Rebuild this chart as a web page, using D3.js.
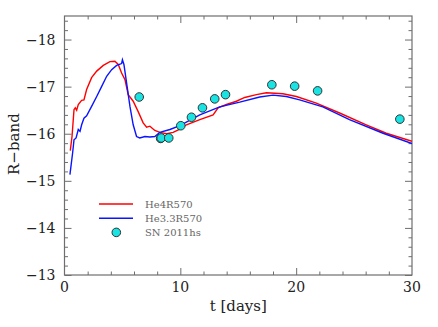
<!DOCTYPE html>
<html>
<head>
<meta charset="utf-8">
<script src="https://cdn.jsdelivr.net/npm/d3@7"></script>
<style>
  body { margin: 0; background: #fff; }
  svg text { font-family: "DejaVu Serif", "Liberation Serif", serif; }
</style>
</head>
<body>
<div id="chart"></div>
<script>
// model He4R570: [t, mag]
let redT =   [0.50, 0.65, 0.82, 0.93, 1.05, 1.19, 1.48, 1.68, 1.91, 2.34, 2.78, 3.35, 3.92, 4.35, 4.64, 4.93, 5.22, 5.50, 5.93, 6.36, 6.79, 7.09, 7.37, 7.80, 8.23, 8.81, 9.38, 9.96, 10.53, 11.68, 12.83, 13.26, 13.98, 14.84, 15.56, 16.57, 17.43, 18.86, 20.02, 21.74, 23.75, 26.05, 27.78, 30.0];
let redMag = [-15.64, -15.94, -16.51, -16.55, -16.50, -16.62, -16.71, -16.72, -16.94, -17.19, -17.33, -17.45, -17.53, -17.54, -17.47, -17.29, -17.15, -16.83, -16.69, -16.47, -16.23, -16.14, -16.16, -16.07, -16.03, -16.00, -16.03, -16.10, -16.19, -16.30, -16.40, -16.55, -16.62, -16.69, -16.77, -16.83, -16.87, -16.85, -16.79, -16.65, -16.44, -16.19, -16.01, -15.84];

// model He3.3R570
let blueT =   [0.47, 0.70, 0.82, 1.00, 1.19, 1.34, 1.48, 1.68, 1.91, 2.34, 2.78, 3.20, 3.64, 4.07, 4.50, 4.93, 5.00, 5.13, 5.36, 5.65, 5.93, 6.22, 6.50, 6.94, 7.37, 7.80, 8.23, 9.10, 9.96, 11.68, 13.40, 15.13, 16.85, 18.00, 19.15, 20.30, 22.30, 24.60, 27.50, 30.0];
let blueMag = [-15.13, -15.59, -15.87, -15.91, -16.09, -16.05, -16.19, -16.33, -16.38, -16.58, -16.79, -17.00, -17.22, -17.36, -17.45, -17.49, -17.57, -17.47, -17.08, -16.58, -16.19, -15.94, -15.91, -15.94, -15.93, -15.94, -16.03, -16.09, -16.17, -16.40, -16.57, -16.67, -16.78, -16.82, -16.79, -16.72, -16.57, -16.30, -16.01, -15.79];

// SN 2011hs observations
let obsT =   [6.45, 8.30, 8.35, 9.00, 10.04, 10.96, 11.91, 12.97, 13.90, 17.90, 19.87, 21.85, 28.95];
let obsMag = [-16.78, -15.90, -15.91, -15.91, -16.17, -16.35, -16.55, -16.74, -16.83, -17.04, -17.01, -16.91, -16.31];

let legendNames = ["He4R570", "He3.3R570", "SN 2011hs"];
let xTicks = [0, 10, 20, 30];
let yTicks = [-18, -17, -16, -15, -14, -13];

let margin = {top: 16, right: 26, bottom: 52, left: 64.5},
    width = 438 - margin.left - margin.right,
    height = 327 - margin.top - margin.bottom;

let x = d3.scaleLinear().domain([0, 30]).range([0, width]);
let y = d3.scaleLinear().domain([-13, -18.5]).range([height, 0]);

let svg = d3.select("#chart")
    .append("svg")
    .attr("width", 438)
    .attr("height", 327)
    .append("g")
    .attr("transform", "translate(" + margin.left + "," + margin.top + ")");

let axisColor = "#6e6e6e";
let fmt = d => d < 0 ? "\u2212" + Math.abs(d) : String(d);

// frame
svg.append("rect")
    .attr("width", width)
    .attr("height", height)
    .attr("fill", "none")
    .attr("stroke", axisColor)
    .attr("stroke-width", 1.2);

// ticks pointing inward on all four sides
let xMinor = d3.range(0, 30.01, 2).filter(d => d % 10 !== 0);
let yMinor = d3.range(-18.4, -13, 0.2).filter(d => Math.abs(d - Math.round(d)) > 0.01);

function ticks(axisFn, scale, values, len, tr) {
    let g = svg.append("g")
        .call(axisFn(scale).tickValues(values).tickSize(-len).tickFormat(""));
    if (tr) g.attr("transform", tr);
}

ticks(d3.axisBottom, x, [10, 20], 7, "translate(0," + height + ")");
ticks(d3.axisBottom, x, xMinor, 3.5, "translate(0," + height + ")");
ticks(d3.axisTop, x, [10, 20], 7);
ticks(d3.axisTop, x, xMinor, 3.5);
ticks(d3.axisLeft, y, yTicks, 7);
ticks(d3.axisLeft, y, yMinor, 3.5);
ticks(d3.axisRight, y, yTicks, 7, "translate(" + width + ",0)");
ticks(d3.axisRight, y, yMinor, 3.5, "translate(" + width + ",0)");

svg.selectAll(".domain").remove();
svg.selectAll(".tick line").attr("stroke", axisColor).attr("stroke-width", 1);

// tick labels
svg.append("g").selectAll("text")
    .data(xTicks)
    .join("text")
    .attr("x", d => x(d))
    .attr("y", height + 17)
    .attr("text-anchor", "middle")
    .attr("font-size", 14)
    .attr("fill", "#222")
    .text(fmt);

svg.append("g").selectAll("text")
    .data(yTicks)
    .join("text")
    .attr("x", -9)
    .attr("y", d => y(d))
    .attr("dy", "0.36em")
    .attr("text-anchor", "end")
    .attr("font-size", 14)
    .attr("fill", "#222")
    .text(fmt);

// axis labels
svg.append("text")
    .attr("x", x(15))
    .attr("y", height + 31)
    .attr("dy", "0.36em")
    .attr("text-anchor", "middle")
    .attr("font-size", 15)
    .attr("fill", "#222")
    .text("t  [days]");

svg.append("text")
    .attr("transform", "rotate(-90)")
    .attr("x", -y(-15.78))
    .attr("y", -51)
    .attr("dy", "0.36em")
    .attr("text-anchor", "middle")
    .attr("font-size", 15)
    .attr("fill", "#222")
    .text("R\u2212band");

// model curves
let line = d3.line()
    .x(d => x(d[0]))
    .y(d => y(d[1]));

svg.append("clipPath").attr("id", "clip")
    .append("rect").attr("width", width).attr("height", height);

svg.append("path")
    .datum(d3.zip(redT, redMag))
    .attr("fill", "none")
    .attr("stroke", "#ff0000")
    .attr("stroke-width", 1.4)
    .attr("clip-path", "url(#clip)")
    .attr("d", line);

svg.append("path")
    .datum(d3.zip(blueT, blueMag))
    .attr("fill", "none")
    .attr("stroke", "#0a14ff")
    .attr("stroke-width", 1.4)
    .attr("clip-path", "url(#clip)")
    .attr("d", line);

// observations
svg.append("g").selectAll("circle")
    .data(d3.zip(obsT, obsMag))
    .join("circle")
    .attr("cx", d => x(d[0]))
    .attr("cy", d => y(d[1]))
    .attr("r", 4.3)
    .attr("fill", "#19e3e3")
    .attr("stroke", "#333")
    .attr("stroke-width", 1);

// legend
let legend = svg.append("g").attr("transform", "translate(" + (99 - margin.left) + "," + (204 - margin.top) + ")");
let legendColors = ["#ff0000", "#0a14ff"];
legendNames.forEach((name, i) => {
    let row = legend.append("g").attr("transform", "translate(0," + (i * 14.2) + ")");
    if (i < 2) {
        row.append("line")
            .attr("x1", 0).attr("x2", 34)
            .attr("stroke", legendColors[i])
            .attr("stroke-width", 1.4);
    } else {
        row.append("circle")
            .attr("cx", 17.3)
            .attr("r", 4.3)
            .attr("fill", "#19e3e3")
            .attr("stroke", "#333")
            .attr("stroke-width", 1);
    }
    row.append("text")
        .attr("x", 46)
        .attr("dy", "0.36em")
        .attr("font-size", 10)
        .attr("fill", "#666")
        .text(name);
});
</script>
</body>
</html>
